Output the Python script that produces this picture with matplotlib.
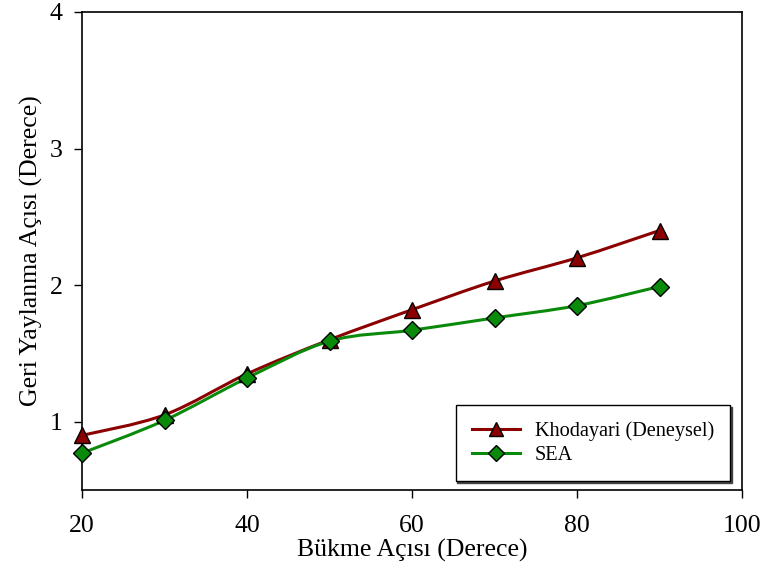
import numpy as np
import matplotlib
matplotlib.use("Agg")
import matplotlib.pyplot as plt
from matplotlib.path import Path
from matplotlib.patches import PathPatch
from matplotlib.lines import Line2D

plt.rcParams["font.family"] = ["Liberation Serif", "DejaVu Serif"]

# data
bend_angle = [20, 30, 40, 50, 60, 70, 80, 90]
khodayari = [0.90, 1.05, 1.35, 1.60, 1.82, 2.03, 2.20, 2.40]
sea = [0.77, 1.01, 1.32, 1.59, 1.67, 1.76, 1.85, 1.99]

red = "#8b0000"
green = "#0a8a0a"


def smooth_path(x, y, t=1/6):
    # catmull-rom style bezier through the points (like excel "smoothed line")
    x = np.asarray(x, float)
    y = np.asarray(y, float)
    pts = np.column_stack([x, y])
    verts = [pts[0]]
    codes = [Path.MOVETO]
    n = len(pts)
    for i in range(n - 1):
        p0 = pts[i - 1] if i > 0 else pts[i]
        p1 = pts[i]
        p2 = pts[i + 1]
        p3 = pts[i + 2] if i + 2 < n else pts[i + 1]
        c1 = p1 + (p2 - p0) * t
        c2 = p2 - (p3 - p1) * t
        verts += [c1, c2, p2]
        codes += [Path.CURVE4] * 3
    return Path(verts, codes)


fig = plt.figure(figsize=(7.67, 5.72), dpi=100)
ax = fig.add_axes([82 / 767, 82 / 572, 660 / 767, 478 / 572])

for ys, col, mk in [(khodayari, red, "^"), (sea, green, "D")]:
    ax.add_patch(PathPatch(smooth_path(bend_angle, ys), fill=False,
                           edgecolor=col, lw=2.2, zorder=2))
    ax.plot(bend_angle, ys, ls="none", marker=mk, ms=11 if mk == "^" else 9.5,
            mfc=col, mec="black", mew=1, zorder=3, clip_on=False)

ax.set_xlim(20, 100)
ax.set_ylim(0.5, 4)
ax.set_xticks([20, 40, 60, 80, 100])
ax.set_yticks([1, 2, 3, 4])
ax.tick_params(direction="out", length=6, width=1, labelsize=18.5)
ax.tick_params(axis="x", pad=12)
ax.tick_params(axis="y", pad=8)
for s in ax.spines.values():
    s.set_linewidth(1.2)

ax.set_xlabel("Bükme Açısı (Derece)", fontsize=18.5, labelpad=1.5)
ax.set_ylabel("Geri Yaylanma Açısı (Derece)", fontsize=18.5, labelpad=5)

handles = [
    Line2D([], [], color=red, lw=2.2, marker="^", ms=10, mfc=red, mec="black"),
    Line2D([], [], color=green, lw=2.2, marker="D", ms=8.5, mfc=green, mec="black"),
]
leg = ax.legend(handles, ["Khodayari (Deneysel)", "SEA"], loc="lower right",
                bbox_to_anchor=(0.982, 0.019), borderaxespad=0, fontsize=14.6,
                frameon=True, fancybox=False,
                shadow={"ox": 1.2, "oy": -1.2, "color": "#444444", "alpha": 1},
                edgecolor="black", borderpad=0.8, handlelength=2.4,
                handletextpad=0.7, labelspacing=0.2)
leg.get_frame().set_linewidth(1)

fig.savefig("out.png", dpi=100)
